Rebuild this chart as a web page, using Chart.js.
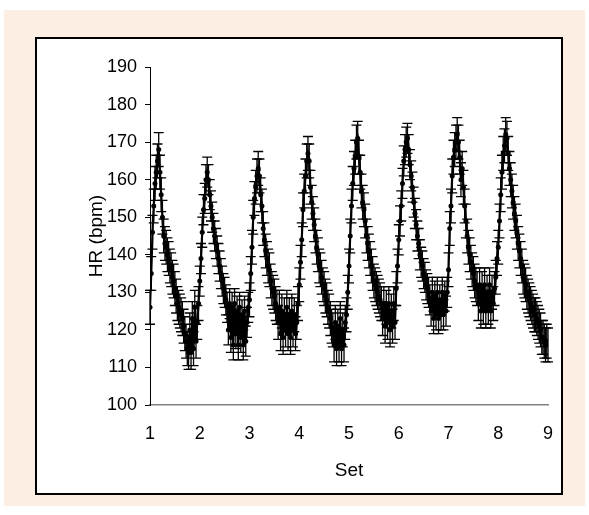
<!DOCTYPE html>
<html>
<head>
<meta charset="utf-8">
<script src="https://cdn.jsdelivr.net/npm/chart.js@4/dist/chart.umd.min.js"></script>
<style>
  html, body { margin: 0; padding: 0; background: #ffffff; }
  #wrap { position: relative; width: 589px; height: 515px; overflow: hidden; }
  #peach { position: absolute; left: 4px; top: 10px; width: 581px; height: 496px; background: #fdeee3; }
  #panel { position: absolute; left: 35px; top: 37px; width: 528px; height: 458px; background: #ffffff; border: 2px solid #000; box-sizing: border-box; }
  #c { position: absolute; left: 0; top: 0; }
</style>
</head>
<body>
<div id="wrap">
  <div id="peach"></div>
  <div id="panel"></div>
  <canvas id="c" width="589" height="515"></canvas>
</div>
<script>
// ---- data (HR in bpm, 40 samples per set) ----
const xTickLabels = ['1', '2', '3', '4', '5', '6', '7', '8', '9'];
const samplesPerSet = 40;

const set1 = [126, 135, 146, 153, 159, 162, 165, 168,
  162, 156, 150, 145, 143, 142, 140, 139, 137, 136, 134, 133, 131, 129, 127, 126, 125, 124, 123, 121, 119, 117, 115, 114,
  120, 114, 123, 115, 126, 117, 122, 127];
const set2 = [133, 139, 146, 152, 155, 160, 162,
  160, 156, 153, 150, 147, 145, 143, 141, 139, 137, 135, 133, 131, 130, 128, 126,
  120, 127, 118, 126, 116, 127, 119, 125, 116, 126, 118, 124, 116, 125, 117, 122, 126];
const set3 = [128, 135, 142, 150, 155, 158, 161, 163,
  161, 156, 153, 147, 144, 141, 139, 137, 136, 133, 131, 130, 129, 127, 126,
  122, 126, 119, 125, 118, 124, 120, 126, 119, 124, 118, 125, 120, 124, 119, 122, 127];
const set4 = [132, 138, 144, 152, 157, 161, 165, 167,
  165, 158, 154, 151, 148, 145, 142, 140, 137, 136, 134, 132, 131, 129, 128, 126, 125, 123, 121, 120,
  116, 122, 115, 121, 116, 123, 115, 120, 116, 122, 124, 130];
const set5 = [137, 145, 153, 159, 163, 166, 170, 171,
  166, 162, 157, 154, 152, 149, 145, 143, 141, 139, 137, 135, 133, 132, 131, 130, 129, 128, 127,
  123, 127, 121, 126, 122, 127, 120, 125, 121, 127, 122, 131, 137];
const set6 = [144, 149, 153, 159, 165, 168, 170, 171,
  168, 164, 161, 158, 154, 151, 148, 145, 143, 140, 138, 137, 135, 134, 132, 131, 130, 128,
  125, 130, 123, 129, 124, 130, 123, 128, 124, 130, 124, 129, 125, 130];
const set7 = [136, 147, 153, 161, 166, 168, 170, 172,
  170, 166, 160, 163, 158, 153, 149, 145, 142, 140, 138, 136, 135, 133, 132, 131,
  127, 132, 125, 131, 126, 132, 125, 130, 126, 132, 125, 130, 127, 131, 134, 139];
const set8 = [142, 149, 156, 162, 167, 169, 172, 171,
  167, 163, 160, 157, 154, 151, 149, 146, 143, 141, 139, 137, 134, 133, 132, 130, 129, 128, 127, 126,
  125, 124, 124, 123, 122, 121, 120, 118, 118, 117, 116, 117, 116];

// standard deviation (bpm) of each set's error bars
const sdBySet = [4.5, 4, 4.5, 4.5, 4.5, 4, 4.5, 4.5];

// ---- build the series ----
const sets = [set1, set2, set3, set4, set5, set6, set7, set8];
const points = [];
const sds = [];
sets.forEach((arr, s) => {
  arr.forEach((v, r) => {
    points.push({ x: 1 + s + r / samplesPerSet, y: v });
    sds.push(sdBySet[s]);
  });
});

const FONT = '"Liberation Sans", Arial, sans-serif';

const errorBars = {
  id: 'errorBars',
  afterDatasetsDraw(chart) {
    const ctx = chart.ctx;
    const ys = chart.scales.y;
    const meta = chart.getDatasetMeta(0);
    ctx.save();
    ctx.strokeStyle = '#000';
    ctx.lineWidth = 1.3;
    meta.data.forEach((pt, i) => {
      const v = points[i].y, s = sds[i];
      const yt = ys.getPixelForValue(v + s);
      const yb = ys.getPixelForValue(v - s);
      const x = pt.x;
      ctx.beginPath();
      ctx.moveTo(x, yt); ctx.lineTo(x, yb);
      ctx.moveTo(x - 5, yt); ctx.lineTo(x + 5, yt);
      ctx.moveTo(x - 5, yb); ctx.lineTo(x + 5, yb);
      ctx.stroke();
    });
    ctx.restore();
  }
};

new Chart(document.getElementById('c'), {
  type: 'line',
  data: {
    datasets: [{
      data: points,
      borderColor: '#000',
      backgroundColor: '#000',
      borderWidth: 2.2,
      pointRadius: 2.5,
      pointBorderWidth: 0,
      pointBackgroundColor: '#000',
      tension: 0,
      fill: false
    }]
  },
  options: {
    responsive: false,
    animation: false,
    layout: { padding: { left: 81, right: 41, top: 67, bottom: 29 } },
    plugins: { legend: { display: false }, tooltip: { enabled: false } },
    scales: {
      x: {
        type: 'linear', min: 1, max: 9,
        ticks: {
          stepSize: 1, color: '#000', padding: 18,
          font: { family: FONT, size: 18 },
          callback: (v) => xTickLabels[v - 1]
        },
        grid: { drawOnChartArea: false, drawTicks: false },
        border: { color: '#808080', width: 1.5 },
        title: { display: true, text: 'Set', color: '#000', font: { family: FONT, size: 19 }, padding: { top: 4, bottom: 4 } },
        afterFit(s) { s.height = 81; }
      },
      y: {
        min: 100, max: 190,
        ticks: { stepSize: 10, color: '#000', padding: 8, font: { family: FONT, size: 18 } },
        grid: { drawOnChartArea: false, drawTicks: true, tickLength: 5, tickColor: '#000' },
        border: { color: '#000', width: 1 },
        title: { display: true, text: 'HR (bpm)', color: '#000', font: { family: FONT, size: 19 }, padding: { top: 4, bottom: 4 } },
        afterFit(s) { s.width = 69; }
      }
    }
  },
  plugins: [errorBars]
});
</script>
</body>
</html>
